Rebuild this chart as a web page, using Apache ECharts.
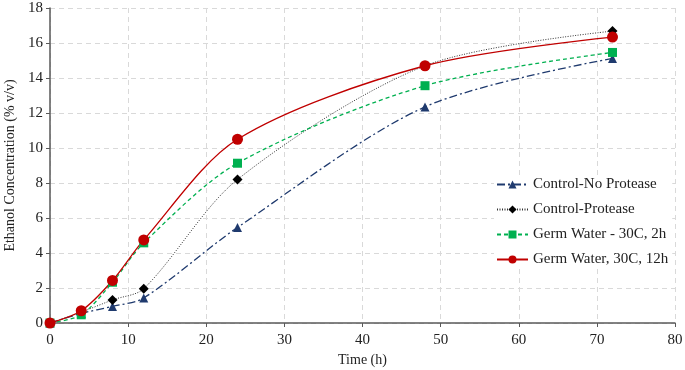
<!DOCTYPE html>
<html>
<head>
<meta charset="utf-8">
<script src="https://cdn.jsdelivr.net/npm/echarts@6/dist/echarts.min.js"></script>
<style>
	html, body { margin: 0; padding: 0; background: #fff; }
	#chart { width: 685px; height: 370px; }
</style>
</head>
<body>
<div id="chart"></div>
<script>
// horas de muestreo
var tiempos = [0, 4, 8, 12, 24, 48, 72];

var controlSinProteasa = [0, 0.55, 0.95, 1.43, 5.46, 12.35, 15.12];
var controlProteasa = [0, 0.62, 1.32, 1.96, 8.2, 14.7, 16.68];
var germ2h = [0, 0.47, 2.33, 4.58, 9.13, 13.56, 15.46];
var germ12h = [0, 0.7, 2.43, 4.75, 10.5, 14.7, 16.34];

var nombres = ['Control-No Protease', 'Control-Protease', 'Germ Water - 30C, 2h', 'Germ Water, 30C, 12h'];

function pares(valores) {
	return tiempos.map(function (t, i) { return [t, valores[i]]; });
}

function initLinea(divName) {
	var myChart = echarts.init(document.getElementById(divName));
	var fuente = 'Liberation Serif';
	var option = {
		animation: false,
		textStyle: { fontFamily: fuente },
		grid: {
			left: 50,
			right: 10,
			top: 8,
			bottom: 47,
			outerBoundsMode: 'none'
		},
		legend: {
			orient: 'vertical',
			left: 494,
			top: 175,
			itemWidth: 31,
			itemHeight: 10,
			itemGap: 10,
			backgroundColor: '#fff',
			padding: [2, 4, 2, 2],
			textStyle: { fontFamily: fuente, fontSize: 15, color: '#222' },
			data: nombres
		},
		xAxis: {
			type: 'value',
			min: 0,
			max: 80,
			interval: 10,
			name: 'Time (h)',
			nameLocation: 'middle',
			nameGap: 29,
			nameTextStyle: { fontFamily: fuente, fontSize: 14, color: '#222' },
			axisLine: { lineStyle: { color: '#595959', width: 1.5 } },
			axisTick: { show: true, length: 4, lineStyle: { color: '#595959' } },
			axisLabel: { fontFamily: fuente, fontSize: 15, color: '#222', margin: 10 },
			splitLine: { show: true, lineStyle: { color: '#d9d9d9', type: [5, 4] } }
		},
		yAxis: {
			type: 'value',
			min: 0,
			max: 18,
			interval: 2,
			name: 'Ethanol Concentration (% v/v)',
			nameLocation: 'middle',
			nameGap: 31,
			nameTextStyle: { fontFamily: fuente, fontSize: 14, color: '#222' },
			axisLine: { show: true, lineStyle: { color: '#595959', width: 1.5 } },
			axisTick: { show: true, length: 4, lineStyle: { color: '#595959' } },
			axisLabel: { fontFamily: fuente, fontSize: 15, color: '#222', margin: 7 },
			splitLine: { show: true, lineStyle: { color: '#d9d9d9', type: [5, 4] } }
		},
		series: [
			{
				name: nombres[0],
				type: 'line',
				smooth: 0.3,
				data: pares(controlSinProteasa),
				symbol: 'triangle',
				symbolSize: 9,
				itemStyle: { color: '#1f3a6e' },
				lineStyle: { color: '#1f3a6e', width: 1.3, type: [8, 3, 2, 3] }
			},
			{
				name: nombres[1],
				type: 'line',
				smooth: 0.3,
				data: pares(controlProteasa),
				symbol: 'diamond',
				symbolSize: 10,
				itemStyle: { color: '#000' },
				lineStyle: { color: '#333', width: 1, type: [1, 1.5] }
			},
			{
				name: nombres[2],
				type: 'line',
				smooth: 0.3,
				data: pares(germ2h),
				symbol: 'rect',
				symbolSize: 9,
				itemStyle: { color: '#00b050' },
				lineStyle: { color: '#00b050', width: 1.3, type: [4, 3] }
			},
			{
				name: nombres[3],
				type: 'line',
				smooth: 0.3,
				data: pares(germ12h),
				symbol: 'circle',
				symbolSize: 11,
				itemStyle: { color: '#c00000' },
				lineStyle: { color: '#c00000', width: 1.3, type: 'solid' }
			}
		]
	};
	myChart.setOption(option, true);
}

initLinea('chart');
</script>
</body>
</html>
